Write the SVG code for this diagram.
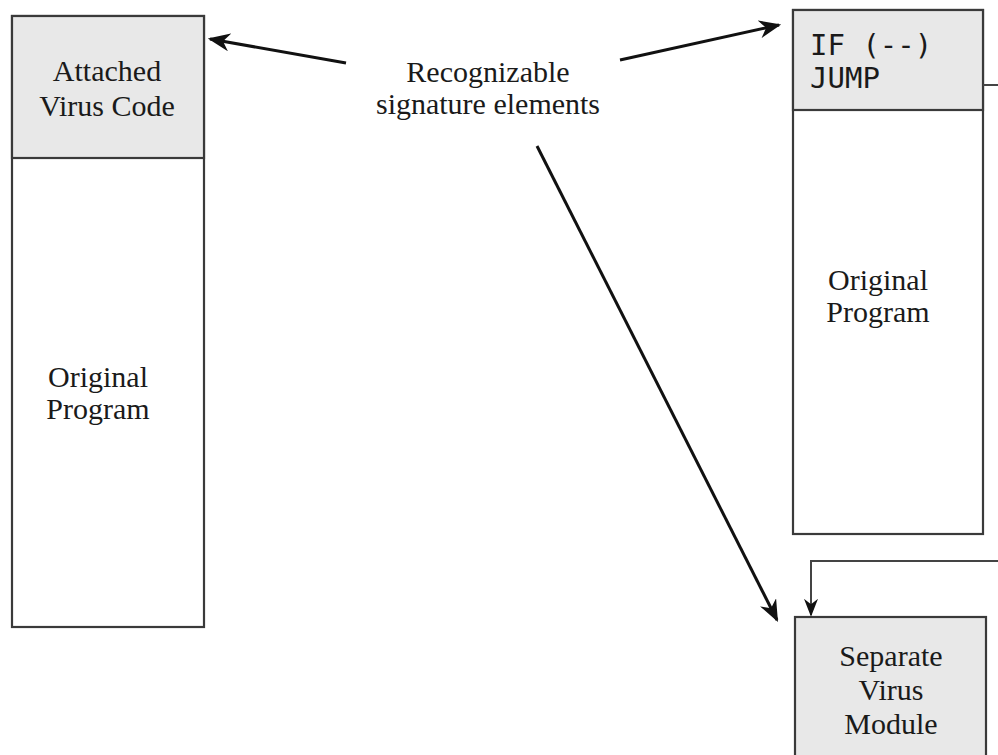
<svg xmlns="http://www.w3.org/2000/svg" width="998" height="755" viewBox="0 0 998 755">
<style>
.box{fill:#fff;stroke:#3a3a3a;stroke-width:2.2}
.hdr{fill:#e8e8e8;stroke:#3a3a3a;stroke-width:2.2}
.t{font-family:"Liberation Serif","Times New Roman",serif;font-size:30px;fill:#1a1a1a;text-anchor:middle}
.m{font-family:"DejaVu Sans Mono",monospace;font-size:29px;fill:#1a1a1a}
.ln{fill:none;stroke:#111;stroke-width:3}
.ln2{fill:none;stroke:#444;stroke-width:2}
</style>
<defs>
<marker id="ah" viewBox="0 0 10 10" refX="9" refY="5" markerWidth="18" markerHeight="14" markerUnits="userSpaceOnUse" orient="auto" preserveAspectRatio="none">
<path d="M0,0 L10,5 L0,10 L3,5 Z" fill="#111"/>
</marker>
<marker id="ah2" viewBox="0 0 10 10" refX="9" refY="5" markerWidth="22" markerHeight="18" markerUnits="userSpaceOnUse" orient="auto" preserveAspectRatio="none">
<path d="M0,0 L10,5 L0,10 L3,5 Z" fill="#111"/>
</marker>
</defs>
<g id="left-program">
<rect class="box" x="12" y="16" width="192" height="611"/>
<rect class="hdr" x="12" y="16" width="192" height="142"/>
<text class="t" x="107" y="81">Attached</text>
<text class="t" x="107" y="116">Virus Code</text>
<text class="t" x="98" y="387">Original</text>
<text class="t" x="98" y="419">Program</text>
</g>
<g id="right-program">
<rect class="box" x="793" y="10" width="190" height="524"/>
<rect class="hdr" x="793" y="10" width="190" height="100"/>
<text class="m" x="810" y="55">IF (--)</text>
<text class="m" x="810" y="88">JUMP</text>
<text class="t" x="878" y="290">Original</text>
<text class="t" x="878" y="322">Program</text>
</g>
<g id="virus-module">
<rect class="hdr" x="795" y="617" width="191" height="150"/>
<text class="t" x="891" y="666">Separate</text>
<text class="t" x="891" y="700">Virus</text>
<text class="t" x="891" y="734">Module</text>
</g>
<g id="label">
<text class="t" x="488" y="82">Recognizable</text>
<text class="t" x="488" y="114">signature elements</text>
</g>
<g id="connectors">
<line class="ln" x1="346" y1="63" x2="210" y2="39" marker-end="url(#ah2)"/>
<line class="ln" x1="620" y1="60" x2="779" y2="25" marker-end="url(#ah2)"/>
<line class="ln" x1="537" y1="146" x2="777" y2="620" marker-end="url(#ah2)"/>
<line class="ln2" x1="983" y1="85" x2="998" y2="85"/>
<path class="ln2" d="M998,561 H811 V615" marker-end="url(#ah)"/>
</g>
</svg>
